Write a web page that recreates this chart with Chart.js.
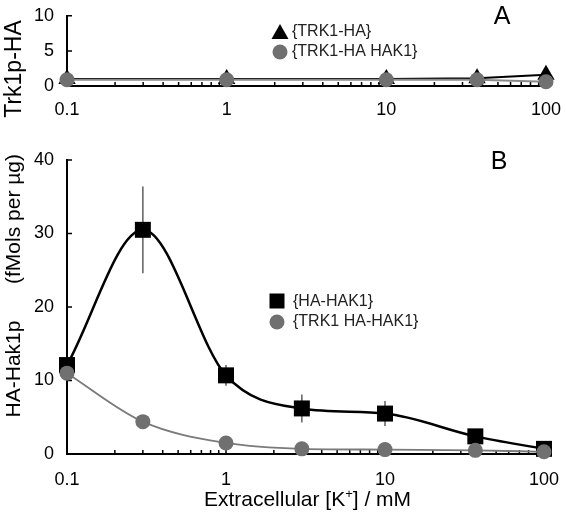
<!DOCTYPE html>
<html>
<head>
<meta charset="utf-8">
<script src="https://cdn.jsdelivr.net/npm/chart.js@4.4.1/dist/chart.umd.min.js"></script>
<style>
  body { margin: 0; background: #fff; }
  #wrap { position: relative; width: 566px; height: 517px; }
  canvas { position: absolute; left: 0; }
  #topChart { top: 0; }
  #bottomChart { top: 120px; }
</style>
</head>
<body>
<div id="wrap">
  <canvas id="topChart" width="566" height="120"></canvas>
  <canvas id="bottomChart" width="566" height="397"></canvas>
</div>
<script>
// panel A: Trk1p-HA
const xTop = [0.1, 1, 10, 37, 100];
const trk1Ha = [1.0, 1.0, 1.0, 1.1, 1.6];
const trk1HaHak1Top = [0.9, 0.9, 0.9, 0.9, 0.6];

// panel B: HA-Hak1p
const xBottom = [0.1, 0.3, 1, 3, 10, 37, 100];
const haHak1 = [12.1, 30.5, 10.7, 6.2, 5.5, 2.4, 0.7];
const haHak1Err = [0, 5.9, 1.4, 1.9, 1.7, 0, 0];
const trk1HaHak1 = [11.0, 4.4, 1.5, 0.7, 0.6, 0.5, 0.3];

const xTicks = [0.1, 1, 10, 100];
const yTicksTop = [0, 5, 10];
const yTicksBottom = [0, 10, 20, 30, 40];

const FONT = '"Liberation Sans", Arial, Helvetica, sans-serif';
const GRAY = '#707070';

const pts = (xs, ys) => xs.map((x, i) => ({ x: x, y: ys[i] }));

const minorX = [];
[0.1, 1, 10].forEach(d => { for (let k = 2; k <= 9; k++) minorX.push(d * k); });

// tick marks point into the plot, drawn through the scales
const inwardTicks = {
  id: 'inwardTicks',
  beforeDatasetsDraw(chart) {
    const { ctx, chartArea } = chart;
    const xs = chart.scales.x, ys = chart.scales.y;
    ctx.save();
    ctx.strokeStyle = '#000';
    ctx.lineWidth = 1.5;
    ctx.beginPath();
    xTicks.forEach(v => {
      const px = xs.getPixelForValue(v);
      ctx.moveTo(px, chartArea.bottom); ctx.lineTo(px, chartArea.bottom - 6);
    });
    minorX.forEach(v => {
      const px = xs.getPixelForValue(v);
      ctx.moveTo(px, chartArea.bottom); ctx.lineTo(px, chartArea.bottom - 4);
    });
    ys.ticks.forEach(t => {
      const py = ys.getPixelForValue(t.value);
      ctx.moveTo(chartArea.left, py); ctx.lineTo(chartArea.left + 5, py);
    });
    ctx.stroke();
    ctx.restore();
  }
};

function drawMarker(ctx, kind, x, y, fill) {
  ctx.fillStyle = fill;
  ctx.beginPath();
  if (kind === 'rect') {
    ctx.rect(x - 7.5, y - 7.5, 15, 15);
  } else if (kind === 'circle') {
    ctx.arc(x, y, 7.5, 0, Math.PI * 2);
  } else {
    ctx.moveTo(x, y - 9);
    ctx.lineTo(x + 8.5, y + 6);
    ctx.lineTo(x - 8.5, y + 6);
    ctx.closePath();
  }
  ctx.fill();
}

const topDecor = {
  id: 'topDecor',
  afterDraw(chart) {
    const ctx = chart.ctx;
    ctx.save();
    // y title
    ctx.fillStyle = '#000';
    ctx.font = '23px ' + FONT;
    ctx.textAlign = 'center';
    ctx.textBaseline = 'alphabetic';
    ctx.translate(21, 69);
    ctx.rotate(-Math.PI / 2);
    ctx.fillText('Trk1p-HA', 0, 0);
    ctx.restore();

    ctx.save();
    drawMarker(ctx, 'triangle', 280, 33, '#000');
    drawMarker(ctx, 'circle', 280, 52, GRAY);
    ctx.fillStyle = '#222';
    ctx.font = '16px ' + FONT;
    ctx.textAlign = 'left';
    ctx.textBaseline = 'middle';
    ctx.fillText('{TRK1-HA}', 292, 32);
    ctx.fillText('{TRK1-HA HAK1}', 292, 52);
    ctx.fillStyle = '#000';
    ctx.font = '25px ' + FONT;
    ctx.textAlign = 'center';
    ctx.fillText('A', 502, 17);
    ctx.restore();
  }
};

const bottomDecor = {
  id: 'bottomDecor',
  beforeDatasetsDraw(chart) {
    const ctx = chart.ctx;
    const xs = chart.scales.x, ys = chart.scales.y;
    ctx.save();
    ctx.strokeStyle = '#606060';
    ctx.lineWidth = 1.5;
    ctx.beginPath();
    xBottom.forEach((x, i) => {
      const e = haHak1Err[i];
      if (!e) return;
      const px = xs.getPixelForValue(x);
      ctx.moveTo(px, ys.getPixelForValue(haHak1[i] + e));
      ctx.lineTo(px, ys.getPixelForValue(haHak1[i] - e));
    });
    ctx.stroke();
    ctx.restore();
  },
  afterDraw(chart) {
    const ctx = chart.ctx;
    const area = chart.chartArea;
    ctx.save();
    ctx.fillStyle = '#000';
    ctx.font = '21px ' + FONT;
    ctx.textBaseline = 'alphabetic';
    ctx.save();
    ctx.translate(20, 0);
    ctx.rotate(-Math.PI / 2);
    ctx.textAlign = 'center';
    ctx.fillText('HA-Hak1p', -249, 0);
    ctx.fillText('(fMols per \u00b5g)', -99, 0);
    ctx.restore();

    // x title with superscript
    const a = 'Extracellular [K', sup = '+', b = '] / mM';
    ctx.font = '21px ' + FONT;
    const wa = ctx.measureText(a).width, wb = ctx.measureText(b).width;
    ctx.font = '13px ' + FONT;
    const ws = ctx.measureText(sup).width;
    let x0 = (area.left + area.right) / 2 + 2 - (wa + ws + wb) / 2;
    const base = 386;
    ctx.textAlign = 'left';
    ctx.font = '21px ' + FONT;
    ctx.fillText(a, x0, base);
    ctx.font = '13px ' + FONT;
    ctx.fillText(sup, x0 + wa, base - 8);
    ctx.font = '21px ' + FONT;
    ctx.fillText(b, x0 + wa + ws, base);

    drawMarker(ctx, 'rect', 277, 181, '#000');
    drawMarker(ctx, 'circle', 277, 202, GRAY);
    ctx.fillStyle = '#222';
    ctx.font = '16px ' + FONT;
    ctx.textBaseline = 'middle';
    ctx.fillText('{HA-HAK1}', 293, 182);
    ctx.fillText('{TRK1 HA-HAK1}', 293, 202);
    ctx.fillStyle = '#000';
    ctx.font = '25px ' + FONT;
    ctx.textAlign = 'center';
    ctx.fillText('B', 499, 42);
    ctx.restore();
  }
};

function xScale(pad, height) {
  return {
    type: 'logarithmic',
    min: 0.1,
    max: 100,
    afterBuildTicks: s => { s.ticks = xTicks.map(v => ({ value: v })); },
    afterFit: s => { s.height = height; },
    grid: { display: false },
    border: { display: true, color: '#000', width: 2 },
    ticks: {
      color: '#000',
      font: { family: FONT, size: 18 },
      padding: pad,
      maxRotation: 0,
      autoSkip: false,
      callback: v => String(v)
    }
  };
}

function yScale(max, ticks) {
  return {
    min: 0,
    max: max,
    afterBuildTicks: s => { s.ticks = ticks.map(v => ({ value: v })); },
    afterFit: s => { s.width = 67; },
    grid: { display: false },
    border: { display: true, color: '#000', width: 2 },
    ticks: {
      color: '#000',
      font: { family: FONT, size: 18 },
      padding: 5
    }
  };
}

const common = {
  responsive: false,
  animation: false,
  devicePixelRatio: 1,
  plugins: { legend: { display: false }, tooltip: { enabled: false } }
};

new Chart(document.getElementById('topChart'), {
  type: 'line',
  data: {
    datasets: [
      {
        data: pts(xTop, trk1HaHak1Top),
        borderColor: '#8a8a8a',
        borderWidth: 2,
        pointStyle: 'circle',
        pointRadius: 7.5,
        pointBackgroundColor: GRAY,
        pointBorderWidth: 0,
        tension: 0,
        clip: false,
        order: 0
      },
      {
        data: pts(xTop, trk1Ha),
        borderColor: '#000',
        borderWidth: 2,
        pointStyle: 'triangle',
        pointRadius: 10,
        pointBackgroundColor: '#000',
        pointBorderWidth: 0,
        tension: 0,
        clip: false,
        order: 1
      }
    ]
  },
  options: Object.assign({}, common, {
    layout: { padding: { left: 0, right: 19, top: 13, bottom: 0 } },
    scales: { x: xScale(5, 34), y: yScale(10, yTicksTop) }
  }),
  plugins: [inwardTicks, topDecor]
});

new Chart(document.getElementById('bottomChart'), {
  type: 'line',
  data: {
    datasets: [
      {
        data: pts(xBottom, trk1HaHak1),
        borderColor: '#7a7a7a',
        borderWidth: 1.8,
        pointStyle: 'circle',
        pointRadius: 7.5,
        pointBackgroundColor: GRAY,
        pointBorderWidth: 0,
        cubicInterpolationMode: 'monotone',
        clip: false,
        order: 0
      },
      {
        data: pts(xBottom, haHak1),
        borderColor: '#000',
        borderWidth: 2.5,
        pointStyle: 'rect',
        pointRadius: 11.3,
        pointBackgroundColor: '#000',
        pointBorderWidth: 0,
        cubicInterpolationMode: 'monotone',
        clip: false,
        order: 1
      }
    ]
  },
  options: Object.assign({}, common, {
    layout: { padding: { left: 0, right: 19, top: 40, bottom: 0 } },
    scales: { x: xScale(7, 63), y: yScale(40, yTicksBottom) }
  }),
  plugins: [inwardTicks, bottomDecor]
});
</script>
</body>
</html>
